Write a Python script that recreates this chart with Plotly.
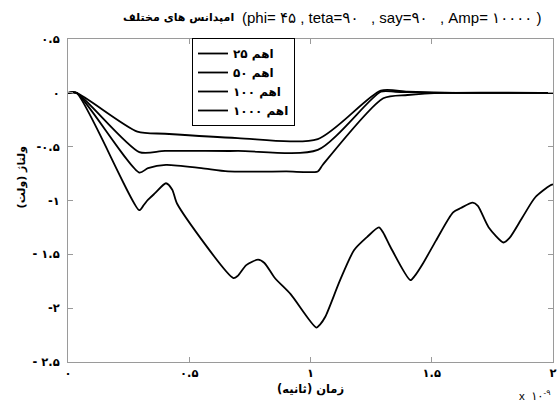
import plotly.graph_objects as go

# ---- data (time in ns, voltage in V) ----
x_25 = [0, 0.035, 0.286, 0.40, 0.70, 1.03, 1.29, 1.40, 1.60, 2.0]
y_25 = [0, 0, -0.36, -0.38, -0.42, -0.43, 0.02, 0.01, 0.0, 0.0]

x_50 = [0, 0.035, 0.294, 0.40, 0.70, 1.03, 1.29, 1.35, 1.50, 2.0]
y_50 = [0, 0, -0.55, -0.54, -0.54, -0.53, 0.01, 0.01, 0.0, 0.0]

x_100 = [0, 0.035, 0.294, 0.33, 0.404, 0.55, 0.66, 0.90, 1.03, 1.05, 1.30, 1.40, 1.55, 2.0]
y_100 = [0, 0, -0.74, -0.70, -0.67, -0.70, -0.73, -0.73, -0.73, -0.67, -0.05, -0.02, 0.0, 0.0]

x_1000 = [0, 0.035, 0.294, 0.31, 0.327, 0.36, 0.404, 0.43, 0.45, 0.682, 0.70, 0.735,
          0.784, 0.81, 0.853, 0.918, 1.024, 1.04, 1.061, 1.122, 1.18, 1.233, 1.282,
          1.30, 1.327, 1.412, 1.43, 1.465, 1.518, 1.588, 1.62, 1.669, 1.69, 1.735,
          1.796, 1.82, 1.873, 1.927, 1.988, 2.0]
y_1000 = [0, 0, -1.09, -1.05, -1.00, -0.93, -0.84, -0.90, -1.03, -1.72, -1.70, -1.60,
          -1.55, -1.58, -1.72, -1.87, -2.18, -2.15, -2.08, -1.74, -1.46, -1.34, -1.25,
          -1.30, -1.42, -1.74, -1.70, -1.58, -1.37, -1.11, -1.07, -1.02, -1.05, -1.25,
          -1.39, -1.35, -1.16, -0.97, -0.86, -0.85]

series_names = ["۲۵ اهم", "۵۰ اهم", "۱۰۰ اهم", "۱۰۰۰ اهم"]

x_tickvals = [0, 0.5, 1, 1.5, 2]
x_ticktext = ["۰", "۰.۵", "۱", "۱.۵", "۲"]
y_tickvals = [0.5, 0, -0.5, -1, -1.5, -2, -2.5]
y_ticktext = ["۰.۵", "۰", "-۰.۵", "-۱", "- ۱.۵", "-۲", "- ۲.۵"]

# ---- figure geometry ----
W, H = 558, 401
L, R, T, B = 68, 1, 39, 39
pw, ph = W - L - R, H - T - B


def px(xp):
    return (xp - L) / pw


def py(yp):
    return (H - B - yp) / ph


fig = go.Figure()
for xs, ys, nm in [(x_25, y_25, series_names[0]), (x_50, y_50, series_names[1]),
                   (x_100, y_100, series_names[2]), (x_1000, y_1000, series_names[3])]:
    fig.add_trace(go.Scatter(x=xs, y=ys, mode="lines", name=nm,
                             line=dict(color="black", width=1.8, shape="spline", smoothing=0.7)))

axis_common = dict(showgrid=False, zeroline=False, showline=True, linecolor="#9a9a9a",
                   linewidth=1, mirror="ticks", ticks="inside", ticklen=5, tickcolor="#9a9a9a",
                   ticklabeloverflow="allow",
                   tickfont=dict(family="DejaVu Sans", size=11.5, color="black", weight="bold"))

fig.update_xaxes(range=[0, 2], tickvals=x_tickvals, ticktext=x_ticktext, **axis_common)
fig.update_yaxes(range=[-2.5, 0.5], tickvals=y_tickvals, ticktext=y_ticktext,
                 ticklabelstandoff=5, **axis_common)

fa = "DejaVu Sans"
nb = "\u00a0"
latin_title = ("(phi=" + nb + "۴۵" + nb + "," + nb + "teta=۹۰" + nb * 3 + "," + nb + "say=۹۰"
               + nb * 3 + "," + nb + "Amp=" + nb + "۱۰۰۰۰" + nb + ")")
annotations = [
    dict(text="<b>امپدانس های مختلف</b>", x=px(237), y=py(17), xanchor="right", yanchor="middle",
         font=dict(family=fa, size=11, color="black")),
    dict(text=latin_title, x=px(241), y=py(17),
         xanchor="left", yanchor="middle",
         font=dict(family="Liberation Sans, DejaVu Sans", size=15, color="black")),
    dict(text="<b>زمان (ثانیه)</b>", x=px(313), y=py(389), xanchor="center", yanchor="middle",
         font=dict(family=fa, size=11.5, color="black")),
    dict(text="<b>ولتاژ (ولت)</b>", x=px(21), y=py(177), xanchor="center", yanchor="middle",
         textangle=-90, font=dict(family=fa, size=11, color="black")),
    dict(text="x  ۱۰<sup>-۹</sup>", x=px(521), y=py(395), xanchor="left", yanchor="middle",
         font=dict(family="Liberation Sans, DejaVu Sans", size=11.5, color="black")),
]
for a in annotations:
    a.update(xref="paper", yref="paper", showarrow=False)

fig.update_layout(
    width=W, height=H, margin=dict(l=L, r=R, t=T, b=B),
    paper_bgcolor="white", plot_bgcolor="white",
    annotations=annotations,
    legend=dict(x=px(193), y=py(38), xanchor="left", yanchor="top",
                bgcolor="white", bordercolor="black", borderwidth=1,
                font=dict(family=fa, size=12, color="black", weight="bold"),
                tracegroupgap=0, itemwidth=30),
    showlegend=True,
)

fig.write_html("out.html")
